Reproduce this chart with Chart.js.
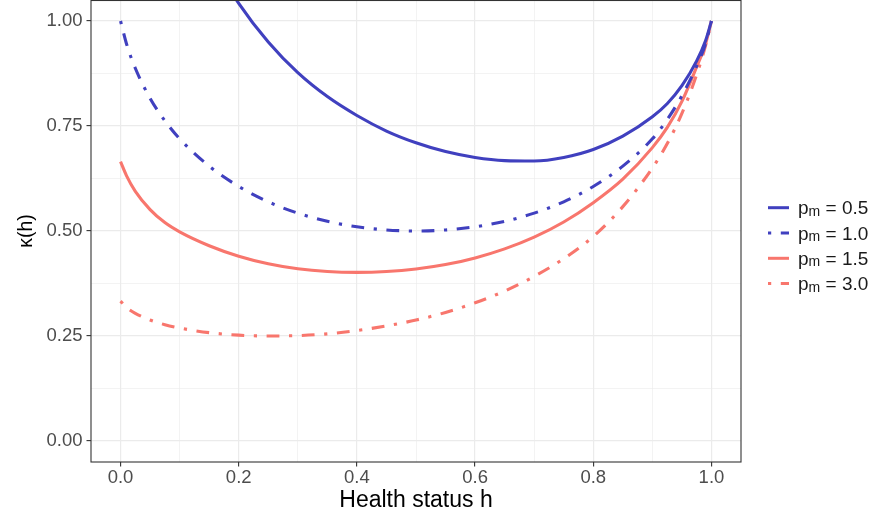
<!DOCTYPE html>
<html><head><meta charset="utf-8">
<script src="https://cdn.jsdelivr.net/npm/chart.js@4.4.1/dist/chart.umd.min.js"></script>
<style>html,body{margin:0;padding:0;background:#fff}#wrap{width:875px;height:518px}</style>
</head><body><div id="wrap"><canvas id="c" width="875" height="518"></canvas></div>
<script>
// Health status h (x values shared by all series)
const hValues = [0, 0.01, 0.025, 0.05, 0.075, 0.1, 0.15, 0.2, 0.25, 0.3, 0.35, 0.4, 0.45, 0.5, 0.55, 0.6, 0.65, 0.7, 0.75, 0.8, 0.85, 0.9, 0.925, 0.95, 0.975, 0.99, 1];
// kappa(h) for each p_m
const kappaPm05 = [2.0, 1.8, 1.66, 1.51, 1.4, 1.305, 1.158, 1.042, 0.95, 0.877, 0.82, 0.775, 0.738, 0.71, 0.689, 0.675, 0.6675, 0.6665, 0.675, 0.694, 0.726, 0.772, 0.803, 0.846, 0.905, 0.953, 1.0];
const kappaPm10 = [1.0, 0.946, 0.8875, 0.816, 0.7625, 0.7195, 0.6545, 0.606, 0.5695, 0.5425, 0.523, 0.51, 0.5025, 0.5, 0.5025, 0.51, 0.523, 0.5425, 0.5695, 0.606, 0.6545, 0.7195, 0.765, 0.822, 0.893, 0.946, 1.0];
const kappaPm15 = [0.665, 0.632, 0.5945, 0.551, 0.52, 0.498, 0.465, 0.44, 0.422, 0.41, 0.4035, 0.4015, 0.4035, 0.4095, 0.42, 0.436, 0.4575, 0.4855, 0.5215, 0.5675, 0.6235, 0.6985, 0.746, 0.8085, 0.891, 0.945, 1.0];
const kappaPm30 = [0.333, 0.318, 0.304, 0.288, 0.277, 0.269, 0.258, 0.252, 0.25, 0.251, 0.255, 0.263, 0.274, 0.288, 0.306, 0.329, 0.357, 0.392, 0.434, 0.487, 0.558, 0.65, 0.7075, 0.78, 0.8725, 0.9415, 1.0];
const pmValues = ['0.5', '1.0', '1.5', '3.0'];

const xMajorTicks = [0, 0.2, 0.4, 0.6, 0.8, 1.0];
const xMinorTicks = [0.1, 0.3, 0.5, 0.7, 0.9];
const xTickLabels = ['0.0', '0.2', '0.4', '0.6', '0.8', '1.0'];
const yMajorTicks = [0, 0.25, 0.5, 0.75, 1.0];
const yMinorTicks = [0.125, 0.375, 0.625, 0.875];
const yTickLabels = ['0.00', '0.25', '0.50', '0.75', '1.00'];

const BLUE = '#4040BF', RED = '#F8766D';
const DOTDASH = [3.2, 9.6, 12.8, 9.6];
const FONT = "'Liberation Sans', Arial, Helvetica, sans-serif";

function majorIndex(list, v) { return list.findIndex(t => Math.abs(t - v) < 1e-9); }
function pts(ys) { return hValues.map((h, i) => ({ x: h, y: ys[i] })); }

const styles = [
  { color: BLUE, dash: [] },
  { color: BLUE, dash: DOTDASH },
  { color: RED, dash: [] },
  { color: RED, dash: DOTDASH }
];
const seriesData = [kappaPm05, kappaPm10, kappaPm15, kappaPm30];

const datasets = seriesData.map((ys, i) => ({
  label: 'p_m = ' + pmValues[i],
  data: pts(ys),
  borderColor: styles[i].color,
  backgroundColor: styles[i].color,
  borderDash: styles[i].dash,
  borderWidth: 3.1,
  borderCapStyle: 'butt',
  pointRadius: 0,
  pointHoverRadius: 0,
  fill: false,
  cubicInterpolationMode: 'monotone',
  clip: 0
}));

const frameAndLegend = {
  id: 'frameAndLegend',
  afterDatasetsDraw(chart) {
    const ctx = chart.ctx, a = chart.chartArea;
    ctx.save();
    ctx.strokeStyle = '#333333';
    ctx.lineWidth = 1.1;
    ctx.strokeRect(a.left, a.top + 0.5, a.right - a.left, a.bottom - a.top - 0.5);
    ctx.restore();
  },
  afterDraw(chart) {
    const ctx = chart.ctx, a = chart.chartArea;
    const x0 = a.right + 27, keyLen = 21, textX = x0 + 30;
    chart.data.datasets.forEach((ds, i) => {
      const y = 207.7 + i * 25.3;
      ctx.save();
      ctx.strokeStyle = ds.borderColor;
      ctx.lineWidth = 3;
      ctx.lineCap = 'butt';
      ctx.setLineDash(ds.borderDash || []);
      ctx.beginPath();
      ctx.moveTo(x0, y);
      ctx.lineTo(x0 + keyLen, y);
      ctx.stroke();
      ctx.setLineDash([]);
      ctx.fillStyle = '#1A1A1A';
      ctx.textBaseline = 'alphabetic';
      ctx.textAlign = 'left';
      const base = y + 6.6;
      let x = textX;
      ctx.font = '19px ' + FONT;
      ctx.fillText('p', x, base);
      x += ctx.measureText('p').width;
      ctx.font = '14px ' + FONT;
      ctx.fillText('m', x, base + 1.5);
      x += ctx.measureText('m').width;
      ctx.font = '19px ' + FONT;
      ctx.fillText(' = ' + pmValues[i], x, base);
      ctx.restore();
    });
  }
};

new Chart(document.getElementById('c'), {
  type: 'line',
  data: { datasets },
  plugins: [frameAndLegend],
  options: {
    responsive: false,
    animation: false,
    devicePixelRatio: 1,
    layout: { padding: { left: 0, right: 134, top: 0, bottom: 0 } },
    plugins: { legend: { display: false }, tooltip: { enabled: false } },
    scales: {
      x: {
        type: 'linear',
        min: -0.05, max: 1.05,
        afterFit: s => { s.height = 56; s.paddingLeft = 0; s.paddingRight = 0; },
        afterBuildTicks: s => { s.ticks = xMajorTicks.concat(xMinorTicks).sort((p, q) => p - q).map(v => ({ value: v })); },
        border: { display: false },
        grid: {
          color: '#EBEBEB',
          lineWidth: c => majorIndex(xMajorTicks, c.tick.value) >= 0 ? 1.2 : 0.6,
          tickColor: c => majorIndex(xMajorTicks, c.tick.value) >= 0 ? '#333333' : 'rgba(0,0,0,0)',
          tickWidth: 1.1,
          tickLength: 4.5,
          drawTicks: true
        },
        ticks: {
          autoSkip: false, maxRotation: 0, minRotation: 0, padding: 0,
          color: '#4D4D4D', font: { size: 18.5, family: FONT },
          callback: v => { const k = majorIndex(xMajorTicks, v); return k >= 0 ? xTickLabels[k] : ''; }
        },
        title: { display: true, text: 'Health status h', color: '#000000', font: { size: 23, family: FONT }, padding: { top: 0, bottom: 4 } }
      },
      y: {
        type: 'linear',
        min: -0.05, max: 1.05,
        afterFit: s => { s.width = 91; s.paddingTop = 0; s.paddingBottom = 0; },
        afterBuildTicks: s => { s.ticks = yMajorTicks.concat(yMinorTicks).sort((p, q) => p - q).map(v => ({ value: v })); },
        border: { display: false },
        grid: {
          color: '#EBEBEB',
          lineWidth: c => majorIndex(yMajorTicks, c.tick.value) >= 0 ? 1.2 : 0.6,
          tickColor: c => majorIndex(yMajorTicks, c.tick.value) >= 0 ? '#333333' : 'rgba(0,0,0,0)',
          tickWidth: 1.1,
          tickLength: 4.5,
          drawTicks: true
        },
        ticks: {
          autoSkip: false, padding: 4,
          color: '#4D4D4D', font: { size: 18.5, family: FONT },
          callback: v => { const k = majorIndex(yMajorTicks, v); return k >= 0 ? yTickLabels[k] : ''; }
        },
        title: { display: true, text: 'κ(h)', color: '#000000', font: { size: 19.5, family: FONT }, padding: { top: 15, bottom: 0 } }
      }
    }
  }
});
</script></body></html>
